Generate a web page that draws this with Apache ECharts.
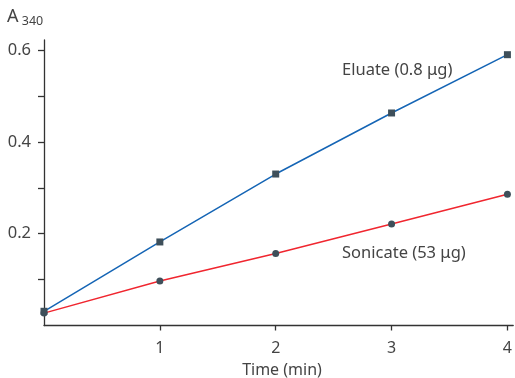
<!DOCTYPE html>
<html><head><meta charset="utf-8">
<script src="https://cdn.jsdelivr.net/npm/echarts@6/dist/echarts.min.js"></script>
<style>html,body{margin:0;padding:0;background:#fff}#c{width:515px;height:378px}</style>
</head><body><div id="c"></div>
<script>
const times = [0, 1, 2, 3, 4];
const eluate = [0.031, 0.182, 0.330, 0.463, 0.590];
const sonicate = [0.027, 0.097, 0.157, 0.221, 0.286];
const xTickLabels = [1, 2, 3, 4];
const yTickLabels = [0.2, 0.4, 0.6];
const yMinorTicks = [0.1, 0.2, 0.3, 0.4, 0.5, 0.6];
const seriesNames = ['Eluate (0.8 μg)', 'Sonicate (53 μg)'];

const font = '"Noto Sans", sans-serif';
const chart = echarts.init(document.getElementById('c'));
chart.setOption({
  animation: false,
  grid: {left: 44, right: 1, top: 40, bottom: 52.5},
  xAxis: {
    type: 'value', min: 0, max: 4.05,
    axisLine: {lineStyle: {color: '#333', width: 1.3}},
    axisTick: {show: true, length: 5, customValues: xTickLabels, lineStyle: {color: '#333', width: 1.3}},
    axisLabel: {customValues: xTickLabels, margin: 15, fontSize: 16, color: '#444', fontFamily: font},
    splitLine: {show: false}
  },
  yAxis: {
    type: 'value', min: 0, max: 0.622,
    axisLine: {show: true, lineStyle: {color: '#333', width: 1.3}},
    axisTick: {show: true, length: 6, customValues: yMinorTicks, lineStyle: {color: '#333', width: 1.3}},
    axisLabel: {customValues: yTickLabels, margin: 13, fontSize: 16.5, color: '#444', fontFamily: font,
      formatter: v => String(Math.round(v * 10) / 10)},
    splitLine: {show: false}
  },
  graphic: [
    {type: 'text', left: 7, top: 8, style: {
      text: '{a|A}{s| 340}', rich: {
        a: {fontSize: 18, fill: '#444', fontFamily: font},
        s: {fontSize: 12.5, fill: '#444', fontFamily: font, padding: [9, 0, 0, 0]}
      }}},
    {type: 'text', x: 282, y: 370, style: {text: 'Time (min)', fontSize: 16, fill: '#444', fontFamily: font, align: 'center', verticalAlign: 'middle'}},
    {type: 'text', x: 342, y: 70, style: {text: seriesNames[0], fontSize: 16.5, fill: '#444', fontFamily: font, verticalAlign: 'middle'}},
    {type: 'text', x: 342, y: 253, style: {text: seriesNames[1], fontSize: 16.5, fill: '#444', fontFamily: font, verticalAlign: 'middle'}}
  ],
  series: [
    {name: seriesNames[0], type: 'line', data: times.map((t, i) => [t, eluate[i]]),
     symbol: 'rect', symbolSize: 7, showAllSymbol: true,
     lineStyle: {color: '#1565b5', width: 1.5}, itemStyle: {color: '#3e4f5a'}},
    {name: seriesNames[1], type: 'line', data: times.map((t, i) => [t, sonicate[i]]),
     symbol: 'circle', symbolSize: 7, showAllSymbol: true,
     lineStyle: {color: '#f0262f', width: 1.5}, itemStyle: {color: '#3e4f5a'}}
  ]
});
</script></body></html>
